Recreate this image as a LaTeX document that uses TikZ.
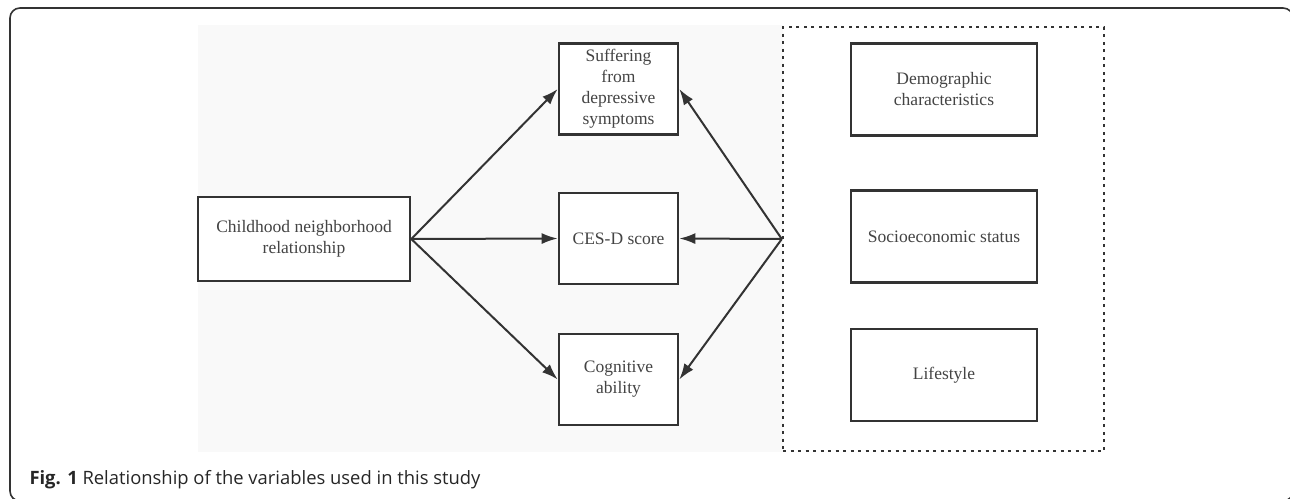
\documentclass[tikz,border=0pt]{standalone}
\usepackage{fontspec}
\setmainfont{Liberation Serif}
\newfontfamily\capfont{Open Sans}
\usetikzlibrary{arrows.meta}
\definecolor{linegray}{HTML}{333333}
\definecolor{textgray}{HTML}{444444}
\definecolor{bggray}{HTML}{F9F9F9}

\begin{document}
\begin{tikzpicture}[x=1pt, y=-1pt,
	box/.style={draw=linegray, line width=2.6pt, fill=white, align=center, text=textgray,
		inner sep=0pt, font=\fontsize{17.5}{21}\selectfont},
	outcome/.style={box, minimum width=119pt, minimum height=91pt},
	control/.style={box, minimum width=186pt, minimum height=92pt},
	link/.style={draw=linegray, line width=2pt, -{Latex[length=16pt,width=11pt]}}]
		\clip (0,0) rectangle (1290,498);
		\draw[linegray, line width=1.6pt, rounded corners=10pt] (10,8) rectangle (1293,501);
		\fill[bggray] (198,25) rectangle (783,452);
		% exposure and outcomes
		\node[box, minimum width=212pt, minimum height=84pt] (child) at (304,239) {Childhood neighborhood\\relationship};
		\node[outcome] (depr) at (618.5,89) {Suffering\\from\\depressive\\symptoms};
		\node[outcome] (cesd) at (618.5,238.5) {CES-D score};
		\node[outcome] (cogn) at (618.5,379.5) {Cognitive\\ability};
		% covariates
		\node[draw=linegray, line width=2.4pt, dash pattern=on 3pt off 4.5pt, minimum width=321pt, minimum height=424pt, inner sep=0pt] (covar) at (943.5,239) {};
		\node[control] (demo) at (944,89.5) {Demographic\\characteristics};
		\node[control] (socio) at (944,236.5) {Socioeconomic status};
		\node[control] (life) at (944,375) {Lifestyle};
		\draw[link] (child.east) -- (depr.west);
		\draw[link] (child.east) -- (cesd.west);
		\draw[link] (child.east) -- (cogn.west);
		\draw[link] (covar.west) -- (depr.east);
		\draw[link] (covar.west) -- (cesd.east);
		\draw[link] (covar.west) -- (cogn.east);
		\node[anchor=base west, font=\capfont\fontsize{18.4}{22}\selectfont, text=black!85] (caption) at (26,484) {\textbf{Fig. 1} Relationship of the variables used in this study};
	\end{tikzpicture}
\end{document}
